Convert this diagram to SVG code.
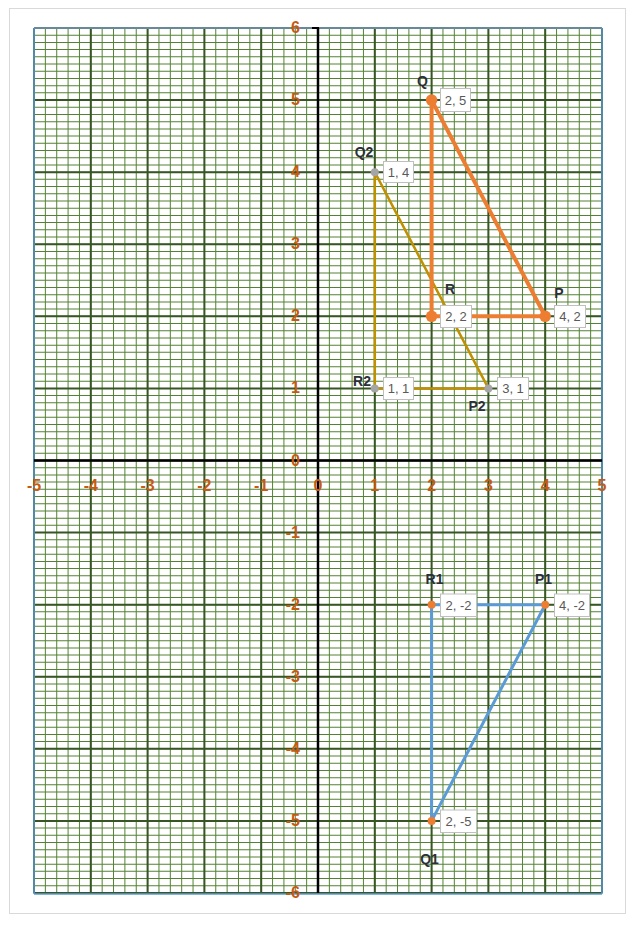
<svg xmlns="http://www.w3.org/2000/svg" width="641" height="933" viewBox="0 0 641 933">
<style>
.ax{font-family:"Liberation Sans",Arial,sans-serif;font-weight:bold;font-size:16px;fill:#C55A11}
.axy{text-anchor:end}
.axx{text-anchor:middle}
.nm{font-family:"Liberation Sans",Arial,sans-serif;font-weight:bold;font-size:14px;fill:#2B2F38;text-anchor:middle}
.val rect{fill:#fff;stroke:#BFBFBF;stroke-width:1}
.val text{font-family:"Liberation Sans",Arial,sans-serif;font-size:13px;fill:#595959;text-anchor:middle}
.tri{fill:none;stroke-linejoin:round}
</style>
<rect x="9.5" y="8.5" width="616" height="905" fill="#fff" stroke="#D9D9D9" stroke-width="1"/>
<g id="grid">
<line x1="33.5" y1="460.5" x2="602.6" y2="460.5" stroke="#548235" stroke-width="865" stroke-dasharray="1 10.36"/>
<line x1="318" y1="27.5" x2="318" y2="893.6" stroke="#548235" stroke-width="568" stroke-dasharray="1 6.20833"/>
<line x1="33" y1="460.5" x2="603.1" y2="460.5" stroke="#375623" stroke-width="865" stroke-dasharray="2 54.8"/>
<line x1="318" y1="27" x2="318" y2="894.1" stroke="#375623" stroke-width="568" stroke-dasharray="2 70.0833"/>
<line x1="34" y1="28" x2="602" y2="28" stroke="#7A9CC0" stroke-width="1.5"/>
<line x1="34" y1="894" x2="602" y2="894" stroke="#5B9BD5" stroke-width="1.5"/>
<line x1="34" y1="28" x2="34" y2="894" stroke="#5B9BD5" stroke-width="1.5"/>
<line x1="602" y1="28" x2="602" y2="894" stroke="#5B9BD5" stroke-width="1.5"/>
<line x1="318" y1="28" x2="318" y2="893" stroke="#000" stroke-width="2.5"/>
<line x1="34" y1="460.5" x2="602" y2="460.5" stroke="#000" stroke-width="2.5"/>
<line x1="312" y1="28" x2="319" y2="28" stroke="#000" stroke-width="2"/>
</g>
<g id="axis-labels" class="ax">
<text class="axy" x="300" y="33">6</text>
<text class="axy" x="300" y="105">5</text>
<text class="axy" x="300" y="177">4</text>
<text class="axy" x="300" y="249">3</text>
<text class="axy" x="300" y="321">2</text>
<text class="axy" x="300" y="393">1</text>
<text class="axy" x="300" y="465.5">0</text>
<text class="axy" x="300" y="537.5">-1</text>
<text class="axy" x="300" y="609.5">-2</text>
<text class="axy" x="300" y="681.5">-3</text>
<text class="axy" x="300" y="754">-4</text>
<text class="axy" x="300" y="826">-5</text>
<text class="axy" x="300" y="898">-6</text>
<text class="axx" x="34" y="491">-5</text>
<text class="axx" x="90.8" y="491">-4</text>
<text class="axx" x="147.6" y="491">-3</text>
<text class="axx" x="204.4" y="491">-2</text>
<text class="axx" x="261.2" y="491">-1</text>
<text class="axx" x="318" y="491">0</text>
<text class="axx" x="374.8" y="491">1</text>
<text class="axx" x="431.6" y="491">2</text>
<text class="axx" x="488.4" y="491">3</text>
<text class="axx" x="545.2" y="491">4</text>
<text class="axx" x="602" y="491">5</text>
</g>
<g id="connectors">
<polygon class="tri" points="374.8,172.2 374.8,388.4 488.4,388.4" stroke="#BF9000" stroke-width="2.5"/>
<polygon class="tri" points="431.6,604.7 545.2,604.7 431.6,820.9" stroke="#5B9BD5" stroke-width="3"/>
<polygon class="tri" points="431.6,100.1 431.6,316.3 545.2,316.3" stroke="#ED7D31" stroke-width="4"/>
</g>
<g id="Q">
<circle cx="431.6" cy="100.1" r="5.8" fill="#ED7D31"/>
<text class="nm" x="422.5" y="86">Q</text>
<g class="val"><rect x="440.5" y="88.5" width="30" height="23"/><text x="455.5" y="104.5">2, 5</text></g>
</g>
<g id="R">
<circle cx="431.6" cy="316.3" r="5.8" fill="#ED7D31"/>
<text class="nm" x="450" y="294">R</text>
<g class="val"><rect x="440.5" y="305.5" width="31" height="22"/><text x="456" y="321">2, 2</text></g>
</g>
<g id="P">
<circle cx="545.2" cy="316.3" r="5.8" fill="#ED7D31"/>
<text class="nm" x="559" y="298">P</text>
<g class="val"><rect x="554.5" y="305.5" width="31" height="22"/><text x="570" y="321">4, 2</text></g>
</g>
<g id="Q2">
<circle cx="374.8" cy="172.2" r="4" fill="#A5A5A5"/>
<text class="nm" x="364" y="157">Q2</text>
<g class="val"><rect x="383.5" y="161.5" width="30" height="21"/><text x="398.5" y="176.5">1, 4</text></g>
</g>
<g id="R2">
<circle cx="374.8" cy="388.4" r="4" fill="#A5A5A5"/>
<text class="nm" x="362" y="386">R2</text>
<g class="val"><rect x="383.5" y="377.5" width="30" height="22"/><text x="398.5" y="393">1, 1</text></g>
</g>
<g id="P2">
<circle cx="488.4" cy="388.4" r="4" fill="#A5A5A5"/>
<text class="nm" x="477" y="411">P2</text>
<g class="val"><rect x="497.5" y="377.5" width="31" height="22"/><text x="513" y="393">3, 1</text></g>
</g>
<g id="R1">
<circle cx="431.6" cy="604.7" r="4" fill="#ED7D31"/>
<text class="nm" x="434.5" y="583.5">R1</text>
<g class="val"><rect x="440.5" y="594" width="36" height="22.5"/><text x="458.5" y="609.5">2, -2</text></g>
</g>
<g id="P1">
<circle cx="545.2" cy="604.7" r="4" fill="#ED7D31"/>
<text class="nm" x="543.5" y="583.5">P1</text>
<g class="val"><rect x="554.5" y="594" width="35" height="22.5"/><text x="572" y="609.5">4, -2</text></g>
</g>
<g id="Q1">
<circle cx="431.6" cy="820.9" r="4" fill="#ED7D31"/>
<text class="nm" x="429.5" y="863.5">Q1</text>
<g class="val"><rect x="440.5" y="810" width="36" height="22.5"/><text x="458.5" y="825.5">2, -5</text></g>
</g>
</svg>
